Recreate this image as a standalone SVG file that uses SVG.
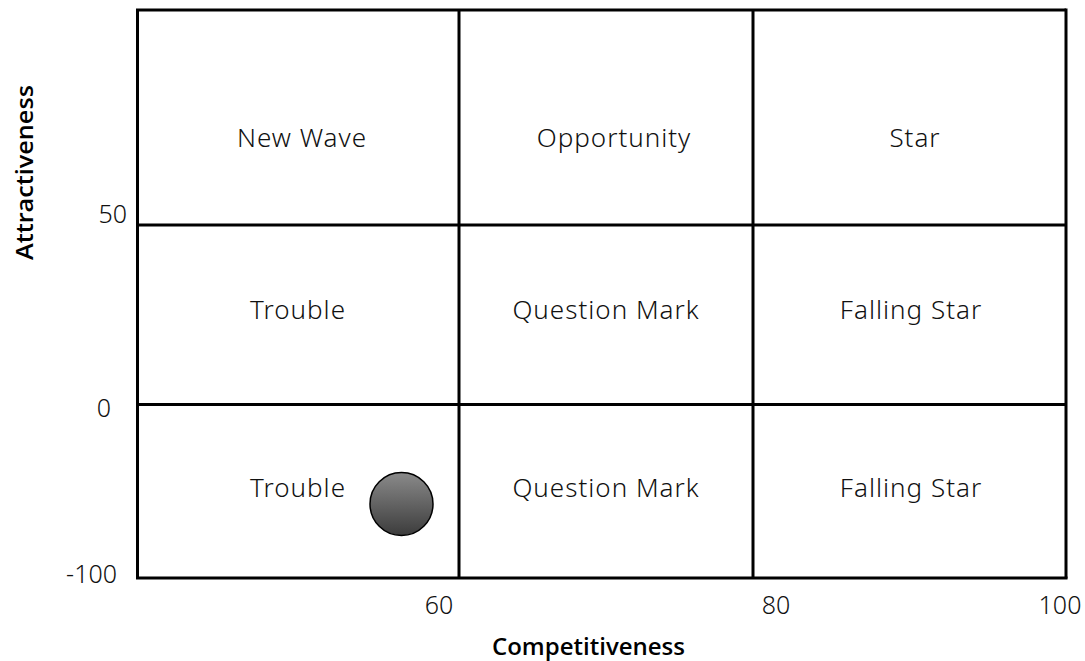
<svg xmlns="http://www.w3.org/2000/svg" width="1085" height="661" viewBox="0 0 1085 661">
<style>
.cell{font-family:"Noto Sans","Open Sans",sans-serif;font-size:26px;font-weight:300;fill:#111;text-anchor:middle;letter-spacing:1px}
.tick{font-family:"Noto Sans","Open Sans",sans-serif;font-size:25px;font-weight:300;fill:#111}
.axis{font-family:"Open Sans","Noto Sans",sans-serif;font-size:23px;font-weight:600;fill:#000}
.grid line{stroke:#000;stroke-width:3}
</style>
<defs>
<linearGradient id="g" x1="0" y1="0" x2="0" y2="1">
<stop offset="0" stop-color="#8a8a8a"/>
<stop offset="1" stop-color="#3c3c3c"/>
</linearGradient>
</defs>
<rect width="1085" height="661" fill="#fff"/>
<g id="grid" class="grid">
<line x1="137.5" y1="10" x2="137.5" y2="578.5"/>
<line x1="136" y1="10" x2="1066" y2="10"/>
<line x1="1066" y1="8.5" x2="1066" y2="578.5"/>
<line x1="136" y1="578" x2="1067.5" y2="578"/>
<line x1="459" y1="10" x2="459" y2="578"/>
<line x1="753" y1="10" x2="753" y2="578"/>
<line x1="137" y1="225" x2="1066" y2="225"/>
<line x1="137" y1="404.5" x2="1066" y2="404.5"/>
</g>
<g id="cells">
<text class="cell" x="302" y="147">New Wave</text>
<text class="cell" x="614" y="147">Opportunity</text>
<text class="cell" x="915" y="147">Star</text>
<text class="cell" x="298" y="319">Trouble</text>
<text class="cell" x="606" y="319">Question Mark</text>
<text class="cell" x="911" y="319">Falling Star</text>
<text class="cell" x="298" y="497">Trouble</text>
<text class="cell" x="606" y="497">Question Mark</text>
<text class="cell" x="911" y="497">Falling Star</text>
</g>
<g id="ticks">
<text class="tick" x="127" y="223" text-anchor="end">50</text>
<text class="tick" x="111" y="417" text-anchor="end">0</text>
<text class="tick" x="117" y="583" text-anchor="end">-100</text>
<text class="tick" x="439" y="614" text-anchor="middle">60</text>
<text class="tick" x="776" y="614" text-anchor="middle">80</text>
<text class="tick" x="1060" y="614" text-anchor="middle">100</text>
</g>
<g id="labels">
<text class="axis" x="492" y="655" textLength="193" lengthAdjust="spacingAndGlyphs">Competitiveness</text>
<text class="axis" transform="translate(33,260) rotate(-90)" textLength="175" lengthAdjust="spacingAndGlyphs">Attractiveness</text>
</g>
<g id="marker">
<circle cx="401.5" cy="504" r="31.5" fill="url(#g)" stroke="#000" stroke-width="1.5"/>
</g>
</svg>
